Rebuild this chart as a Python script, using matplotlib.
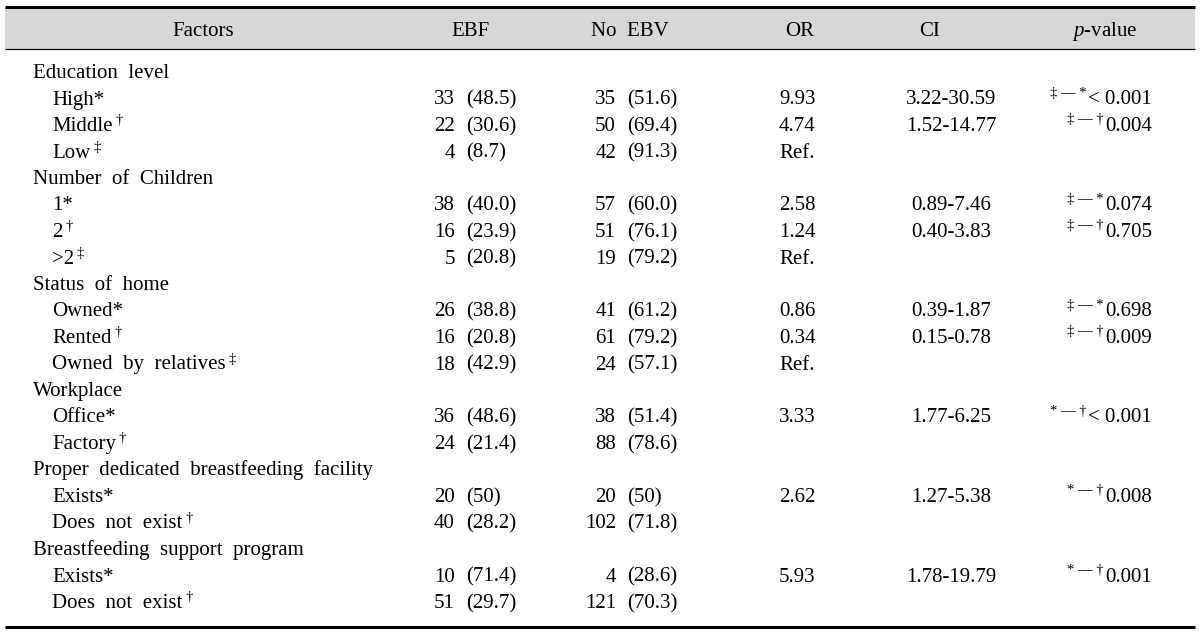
import matplotlib
matplotlib.use("Agg")
import matplotlib.pyplot as plt
from matplotlib.patches import Rectangle

plt.rcParams['font.family'] = ['Liberation Serif', 'DejaVu Serif']
plt.rcParams['mathtext.fontset'] = 'custom'
plt.rcParams['mathtext.rm'] = 'Liberation Serif'
plt.rcParams['mathtext.it'] = 'Liberation Serif:italic'

# table content
headers = ["Factors", "EBF", "No  EBV", "OR", "CI", r"$\mathit{p}$-value"]
factors = ["Education  level", "High", "Middle", "Low",
           "Number  of  Children", "1", "2", ">2",
           "Status  of  home", "Owned", "Rented", "Owned  by  relatives",
           "Workplace", "Office", "Factory",
           "Proper  dedicated  breastfeeding  facility", "Exists", "Does  not  exist",
           "Breastfeeding  support  program", "Exists", "Does  not  exist"]
is_group = [1, 0, 0, 0, 1, 0, 0, 0, 1, 0, 0, 0, 1, 0, 0, 1, 0, 0, 1, 0, 0]
marks = ["", "*", "†", "‡", "", "*", "†", "‡", "", "*", "†", "‡",
         "", "*", "†", "", "*", "†", "", "*", "†"]
ebf_n = [None, 33, 22, 4, None, 38, 16, 5, None, 26, 16, 18,
         None, 36, 24, None, 20, 40, None, 10, 51]
ebf_pct = [None, "48.5", "30.6", "8.7", None, "40.0", "23.9", "20.8", None, "38.8", "20.8", "42.9",
           None, "48.6", "21.4", None, "50", "28.2", None, "71.4", "29.7"]
noebv_n = [None, 35, 50, 42, None, 57, 51, 19, None, 41, 61, 24,
           None, 38, 88, None, 20, 102, None, 4, 121]
noebv_pct = [None, "51.6", "69.4", "91.3", None, "60.0", "76.1", "79.2", None, "61.2", "79.2", "57.1",
             None, "51.4", "78.6", None, "50", "71.8", None, "28.6", "70.3"]
odds = ["", "9.93", "4.74", "Ref.", "", "2.58", "1.24", "Ref.", "", "0.86", "0.34", "Ref.",
        "", "3.33", "", "", "2.62", "", "", "5.93", ""]
ci = ["", "3.22-30.59", "1.52-14.77", "", "", "0.89-7.46", "0.40-3.83", "", "", "0.39-1.87", "0.15-0.78", "",
      "", "1.77-6.25", "", "", "1.27-5.38", "", "", "1.78-19.79", ""]
p_pre = ["", "‡ — *", "‡ — †", "", "", "‡ — *", "‡ — †", "", "", "‡ — *", "‡ — †", "",
         "", "* — †", "", "", "* — †", "", "", "* — †", ""]
p_val = ["", "< 0.001", "0.004", "", "", "0.074", "0.705", "", "", "0.698", "0.009", "",
         "", "< 0.001", "", "", "0.008", "", "", "0.001", ""]

fig = plt.figure(figsize=(12, 6.35), dpi=100)
ax = fig.add_axes([0, 0, 1, 1])
ax.set_xlim(0, 1200)
ax.set_ylim(635, 0)
ax.axis('off')

fs = 15
sup = 10.5
base = 7  # baseline offset below row centre
# header band and rules
ax.add_patch(Rectangle((5, 8), 1190, 41, color='#d7d7d7', lw=0))
ax.hlines(7, 5, 1195, color='black', lw=2.2)
ax.hlines(49, 5, 1195, color='black', lw=0.9)
ax.hlines(627, 5, 1195, color='black', lw=2.2)

head_x = [203, 470, 630, 800, 930, 1105]
for x, h in zip(head_x, headers):
    ax.text(x, 29 + base, h, ha='center', va='baseline', fontsize=fs)


def cell(x, y, s, ha):
    return ax.text(x, y + base, s, ha=ha, va='baseline', fontsize=fs)


y0, dy = 71, 26.5
for i, name in enumerate(factors):
    y = y0 + i * dy
    if is_group[i]:
        cell(33, y, name, 'left')
        continue
    label = name + ("*" if marks[i] == "*" else "")
    t = cell(52, y, label, 'left')
    if marks[i] in ("†", "‡"):
        ax.annotate(marks[i], xy=(1, 0.8), xycoords=t, xytext=(2, 0), textcoords='offset points',
                    ha='left', va='center', fontsize=sup)
    cell(455, y, str(ebf_n[i]), 'right')
    cell(466, y, "(" + ebf_pct[i] + ")", 'left')
    cell(616, y, str(noebv_n[i]), 'right')
    cell(627, y, "(" + noebv_pct[i] + ")", 'left')
    if odds[i]:
        cell(779, y, odds[i], 'left')
    if ci[i]:
        cell(951, y, ci[i], 'center')
    if p_val[i]:
        pt = cell(1152, y, p_val[i], 'right')
        ax.annotate(p_pre[i], xy=(0, 0.85), xycoords=pt, xytext=(-1, 0), textcoords='offset points',
                    ha='right', va='center', fontsize=sup)

fig.savefig("out.png", dpi=100)
